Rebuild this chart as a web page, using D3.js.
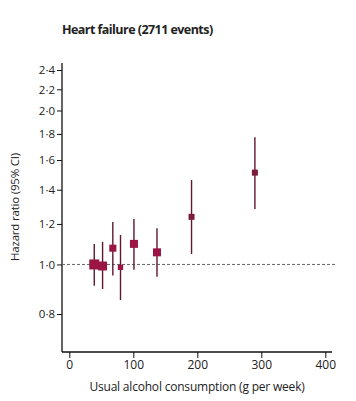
<!DOCTYPE html>
<html>
<head>
<meta charset="utf-8">
<script src="https://cdn.jsdelivr.net/npm/d3@7"></script>
<style>
  html, body { margin: 0; padding: 0; background: #ffffff; }
  svg { display: block; }
  text { font-family: "Open Sans", "DejaVu Sans", sans-serif; fill: #222; }
</style>
</head>
<body>
<div id="chart"></div>
<script>
// ---- data ----
const titleText = "Heart failure (2711 events)";
const xLabel = "Usual alcohol consumption (g per week)";
const yLabel = "Hazard ratio (95% CI)";
const alcohol = [39, 52, 68, 80, 101, 137, 191, 290];          // g per week
const hr      = [1.00, 0.993, 1.076, 0.987, 1.097, 1.056, 1.239, 1.512];
const ciLow   = [0.909, 0.895, 0.951, 0.852, 0.976, 0.946, 1.048, 1.284];
const ciHigh  = [1.097, 1.107, 1.211, 1.142, 1.227, 1.177, 1.463, 1.773];
const weight  = [100, 80, 50, 28, 64, 64, 36, 36];              // relative inverse-variance weight
const xTicks  = [0, 100, 200, 300, 400];
const yTicks  = [0.8, 1.0, 1.2, 1.4, 1.6, 1.8, 2.0, 2.2, 2.4];

// ---- layout ----
const W = 356, H = 401;
const svg = d3.select("#chart").append("svg").attr("width", W).attr("height", H);

const x = d3.scaleLinear().domain([0, 400]).range([69.3, 325.3]);
const y = d3.scaleLog().domain([0.8, 2.4]).range([314, 70]);
const size = d3.scaleSqrt().domain([0, 100]).range([0, 10]);

const axisX0 = 62, axisYBottom = 352, axisYTop = 63, axisXRight = 332;

const fmt = v => d3.format(".1f")(v).replace(".", "\u00b7");

// title
svg.append("text")
  .attr("x", 62).attr("y", 34)
  .attr("font-size", 12.5).attr("font-weight", "bold")
  .attr("letter-spacing", -0.55)
  .attr("fill", "#1a1a1a")
  .text(titleText);

// y axis
const yAxis = d3.axisLeft(y).tickValues(yTicks).tickFormat(fmt).tickSize(5).tickSizeOuter(0);
const gy = svg.append("g").attr("transform", `translate(${axisX0},0)`).call(yAxis);
gy.select(".domain").remove();
gy.append("line").attr("x1", 0).attr("x2", 0).attr("y1", axisYTop).attr("y2", axisYBottom)
  .attr("stroke", "#111").attr("stroke-width", 1.3);
gy.selectAll(".tick line").attr("stroke", "#111").attr("stroke-width", 1);
gy.selectAll(".tick text").attr("font-size", 11.5).attr("fill", "#333")
  .attr("font-family", "\"Open Sans\", sans-serif").attr("x", -7);

// x axis
const xAxis = d3.axisBottom(x).tickValues(xTicks).tickFormat(d3.format("d")).tickSize(6).tickSizeOuter(0);
const gx = svg.append("g").attr("transform", `translate(0,${axisYBottom})`).call(xAxis);
gx.select(".domain").remove();
gx.append("line").attr("x1", axisX0).attr("x2", axisXRight).attr("y1", 0).attr("y2", 0)
  .attr("stroke", "#111").attr("stroke-width", 1.3);
gx.selectAll(".tick line").attr("stroke", "#111").attr("stroke-width", 1);
gx.selectAll(".tick text").attr("font-size", 12).attr("fill", "#333")
  .attr("font-family", "\"Open Sans\", sans-serif").attr("y", 8);

// axis titles
svg.append("text")
  .attr("x", 197).attr("y", 391)
  .attr("text-anchor", "middle")
  .attr("font-size", 12).attr("fill", "#333")
  .attr("letter-spacing", -0.2)
  .text(xLabel);

svg.append("text")
  .attr("transform", `translate(19,${207}) rotate(-90)`)
  .attr("text-anchor", "middle")
  .attr("font-size", 11.5).attr("fill", "#333")
  .attr("letter-spacing", -0.2)
  .text(yLabel);

// reference line at HR = 1
svg.append("line")
  .attr("x1", axisX0).attr("x2", 335)
  .attr("y1", y(1)).attr("y2", y(1))
  .attr("stroke", "#666").attr("stroke-width", 1)
  .attr("stroke-dasharray", "3,2");

// points
const data = alcohol.map((a, i) => ({ a, hr: hr[i], lo: ciLow[i], hi: ciHigh[i], w: weight[i] }));

svg.append("g").selectAll("line").data(data).join("line")
  .attr("x1", d => x(d.a)).attr("x2", d => x(d.a))
  .attr("y1", d => y(d.lo)).attr("y2", d => y(d.hi))
  .attr("stroke", "#5e1631").attr("stroke-width", 1.4);

svg.append("g").selectAll("rect").data(data).join("rect")
  .attr("x", d => x(d.a) - size(d.w) / 2)
  .attr("y", d => y(d.hr) - size(d.w) / 2)
  .attr("width", d => size(d.w))
  .attr("height", d => size(d.w))
  .attr("fill", (d, i) => i < 6 ? "#9a1544" : "#7a1a3c");
</script>
</body>
</html>
